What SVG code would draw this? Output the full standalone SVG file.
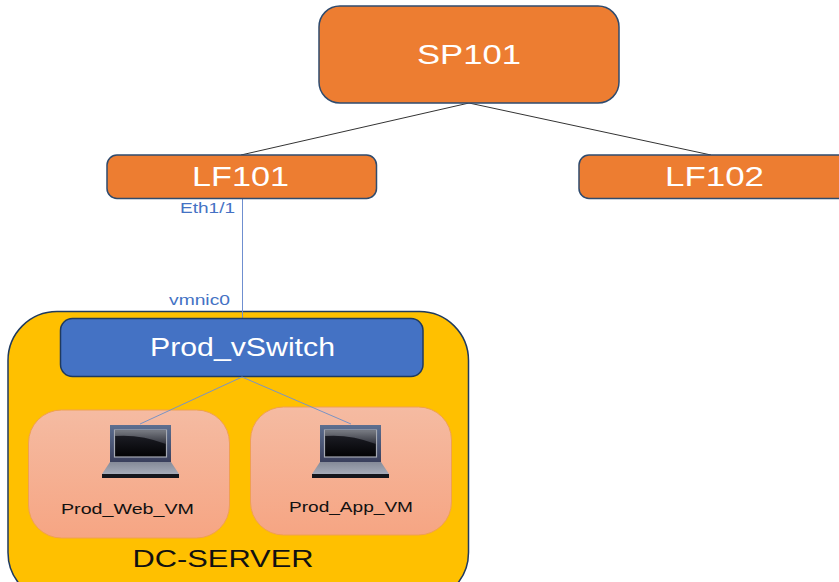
<svg xmlns="http://www.w3.org/2000/svg" width="839" height="582" viewBox="0 0 839 582">
<style>
text{font-family:"Liberation Sans",Arial,sans-serif;text-anchor:middle}
.o{fill:#ed7d31;stroke:#2f4b6e;stroke-width:1.5}
.w{fill:#fff}
.vm{fill:url(#vmg);stroke:#f0a050;stroke-width:1}
.lbl{font-size:14.500px;fill:#4472c4}
.vmt{font-size:15px;fill:#111}
</style>
<defs>
<linearGradient id="vmg" x1="0" y1="0" x2="0" y2="1"><stop offset="0" stop-color="#f5bba2"/><stop offset="1" stop-color="#f6a583"/></linearGradient>
<linearGradient id="scr" x1="0" y1="0" x2="0" y2="1"><stop offset="0" stop-color="#22232c"/><stop offset="1" stop-color="#020204"/></linearGradient>
<linearGradient id="gl" x1="0" y1="0" x2="0" y2="1"><stop offset="0" stop-color="#777a82"/><stop offset="1" stop-color="#33343d"/></linearGradient>
<linearGradient id="bz" x1="0" y1="0" x2="0" y2="1"><stop offset="0" stop-color="#5d6f90"/><stop offset="1" stop-color="#3a3f5c"/></linearGradient>
<linearGradient id="kb" x1="0" y1="0" x2="0" y2="1"><stop offset="0" stop-color="#858a98"/><stop offset="1" stop-color="#a6abb8"/></linearGradient>
<g id="laptop">
<rect x="0" y="0" width="61" height="37" fill="url(#bz)"/>
<rect x="4.500" y="5" width="52" height="27" fill="url(#scr)" stroke="#a5a9b2" stroke-width="1.200"/>
<path d="M5 5.500H56V19Q30 9 5 11Z" fill="url(#gl)"/>
<path d="M0 37H61L69 49H-8Z" fill="url(#kb)"/>
<rect x="-8" y="49" width="77" height="4" fill="#15161c"/>
</g>
</defs>
<g id="server"><rect x="8" y="311.500" width="460.500" height="290" rx="49" fill="#ffc000" stroke="#1f3a5f" stroke-width="1.500"/><text x="223" y="567" font-size="24" fill="#111" textLength="181" lengthAdjust="spacingAndGlyphs">DC-SERVER</text></g>
<g id="connectors" fill="none">
<path d="M469 103L241 155M469 103L711 155" stroke="#333" stroke-width="1"/>
<path d="M242.500 199V319" stroke="#6f8fd0" stroke-width="1"/>
</g>
<g id="sp101"><rect x="319" y="6" width="300" height="97" rx="21" class="o"/><text x="469" y="64" font-size="28" class="w" textLength="104" lengthAdjust="spacingAndGlyphs">SP101</text></g>
<g id="lf101"><rect x="107" y="155" width="269.500" height="43.500" rx="10" class="o"/><text x="240.500" y="186" font-size="28" class="w" textLength="97" lengthAdjust="spacingAndGlyphs">LF101</text></g>
<g id="lf102"><rect x="579" y="155" width="270" height="43.500" rx="10" class="o"/><text x="714.500" y="186" font-size="28" class="w" textLength="99" lengthAdjust="spacingAndGlyphs">LF102</text></g>
<text x="207.500" y="213" class="lbl" textLength="55" lengthAdjust="spacingAndGlyphs">Eth1/1</text>
<text x="199.500" y="304.500" class="lbl" textLength="61" lengthAdjust="spacingAndGlyphs">vmnic0</text>
<g id="vswitch"><rect x="60.500" y="318.500" width="362.500" height="58" rx="12" fill="#4472c4" stroke="#1f3a5f" stroke-width="1.500"/><text x="242.500" y="356" font-size="25" class="w" textLength="185" lengthAdjust="spacingAndGlyphs">Prod_vSwitch</text></g>
<g id="web"><rect x="28.500" y="410" width="201" height="128" rx="33" class="vm"/><use href="#laptop" x="110" y="425"/><text x="127.500" y="514" class="vmt" textLength="133" lengthAdjust="spacingAndGlyphs">Prod_Web_VM</text></g>
<g id="app"><rect x="250.500" y="407" width="201" height="128" rx="33" class="vm"/><use href="#laptop" x="320" y="425"/><text x="351" y="512" class="vmt" textLength="124" lengthAdjust="spacingAndGlyphs">Prod_App_VM</text></g>
<g id="links" fill="none" stroke="#7a93c4" stroke-width="1"><path d="M242 377L140 424M242 377L351 424"/></g>
</svg>
